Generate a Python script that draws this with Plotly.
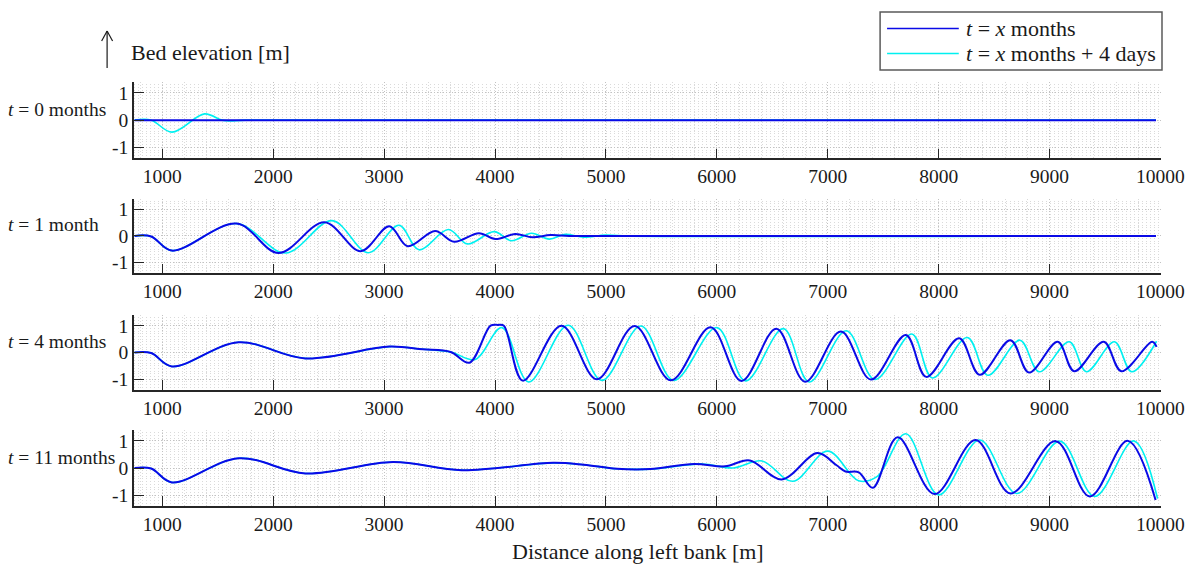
import plotly.graph_objects as go

# ---------------- data ----------------
panel_labels = ["<i>t</i> = 0 months", "<i>t</i> = 1 month", "<i>t</i> = 4 months", "<i>t</i> = 11 months"]
legend_names = ["<i>t</i> = <i>x</i> months", "<i>t</i> = <i>x</i> months + 4 days"]
x_ticks = [1000, 2000, 3000, 4000, 5000, 6000, 7000, 8000, 9000, 10000]
x_ticktext = ["1000", "2000", "3000", "4000", "5000", "6000", "7000", "8000", "9000", "10000"]
y_ticks = [-1, 0, 1]
y_ticktext = ["-1", "0", "1"]

# t = 0 months
x0_blue = [750, 9960]
y0_blue = [0, 0]
x0_cyan = [750, 900, 1087, 1381, 1536, 1613, 1750, 9960]
y0_cyan = [0, 0, -0.44, 0.23, 0.0, -0.03, 0, 0]

# t = 1 month
x1_blue = [750, 900, 1086, 1671, 2049, 2462, 2789, 3047, 3212, 3460, 3632, 3855, 4003,
           4182, 4337, 4500, 4670, 5000, 9960]
y1_blue = [0, -0.02, -0.55, 0.46, -0.64, 0.51, -0.57, 0.36, -0.39, 0.18, -0.22, 0.10, -0.12,
           0.07, -0.05, 0.03, 0, 0, 0]
x1_cyan = [750, 900, 1086, 1671, 2111, 2531, 2858, 3134, 3315, 3580, 3752, 3993, 4148,
           4329, 4490, 4632, 4800, 4992, 5150, 9960]
y1_cyan = [0, -0.02, -0.55, 0.46, -0.64, 0.57, -0.63, 0.40, -0.52, 0.24, -0.30, 0.16, -0.18,
           0.10, -0.12, 0.06, -0.05, 0.03, 0, 0]

# t = 4 months
x4_blue = [750, 900, 1086, 1688, 2290, 3047, 3350, 3600, 3769, 3960, 4027, 4080, 4251,
           4600, 4919, 5259, 5585, 5944, 6222, 6537, 6796, 7119, 7389, 7704, 7889, 8185,
           8370, 8648, 8815, 9074, 9222, 9489, 9648, 9925, 9965]
y4_blue = [0, -0.02, -0.52, 0.38, -0.22, 0.22, 0.12, 0.02, -0.38, 1.0, 1.03, 1.0, -1.05,
           1.0, -1.0, 0.99, -1.04, 0.94, -1.06, 0.89, -1.09, 0.78, -1.01, 0.65, -0.91, 0.53,
           -0.83, 0.46, -0.75, 0.40, -0.70, 0.40, -0.70, 0.40, 0.21]
x4_cyan = [750, 900, 1086, 1688, 2290, 3047, 3350, 3600, 3821, 4062, 4303, 4660, 4963,
           5315, 5611, 6000, 6259, 6600, 6833, 7167, 7426, 7759, 7944, 8259, 8444, 8733,
           8907, 9178, 9333, 9585, 9741, 9965]
y4_cyan = [0, -0.02, -0.52, 0.38, -0.22, 0.22, 0.12, 0.02, -0.26, 0.93, -1.10, 1.02, -1.04,
           0.99, -1.04, 0.93, -1.06, 0.89, -1.10, 0.81, -1.01, 0.69, -0.95, 0.56, -0.85, 0.46,
           -0.72, 0.40, -0.72, 0.40, -0.72, 0.42]

# t = 11 months
x11_blue = [750, 900, 1086, 1688, 2290, 3081, 3700, 4526, 4800, 5100, 5400, 5796, 6074,
            6296, 6585, 6907, 7080, 7160, 7280, 7407, 7630, 7963, 8333, 8648, 9056, 9363,
            9704, 9956]
y11_blue = [0, -0.02, -0.53, 0.36, -0.20, 0.22, -0.08, 0.19, 0.12, -0.03, -0.04, 0.15, 0.06,
            0.28, -0.42, 0.55, 0.10, -0.13, -0.16, -0.73, 1.13, -0.96, 1.03, -0.94, 0.99, -1.05,
            1.0, -1.18]
x11_cyan = [750, 900, 1086, 1688, 2290, 3081, 3700, 4526, 4800, 5100, 5400, 5870, 6148,
            6407, 6685, 7000, 7278, 7444, 7704, 8000, 8370, 8704, 9093, 9407, 9759, 9974]
y11_cyan = [0, -0.02, -0.53, 0.36, -0.20, 0.22, -0.08, 0.19, 0.12, -0.03, -0.04, 0.15, 0.0,
            0.26, -0.49, 0.62, -0.47, -0.32, 1.26, -0.99, 1.03, -0.94, 0.99, -1.05, 1.0, -1.13]

panels = [
    (x0_blue, y0_blue, x0_cyan, y0_cyan),
    (x1_blue, y1_blue, x1_cyan, y1_cyan),
    (x4_blue, y4_blue, x4_cyan, y4_cyan),
    (x11_blue, y11_blue, x11_cyan, y11_cyan),
]

# ---------------- styling / layout ----------------
W, H = 1197, 568
ML, MR, MT, MB = 134, 32, 82, 62
PW, PH = W - ML - MR, H - MT - MB


def px_x(p):
    return (p - ML) / PW


def px_y(p):
    return (H - MB - p) / PH


def clamp(v):
    return max(0.0, min(1.0, v))


FONT = "'Liberation Serif', 'Times New Roman', Tinos, 'DejaVu Serif', serif"
TXT = "#1a1a1a"
AX = "#262626"
BLUE = "#0a0ae6"
CYAN = "#00f0f0"
GRID_MAJ = "#c2c2c2"
GRID_MIN = "#dadada"
TICK_SIZE = 19.5

domains = [(158.3, 82), (273.3, 198.5), (390, 315), (506, 430)]

fig = go.Figure()
for i, (xb, yb, xc, yc) in enumerate(panels):
    n = i + 1
    xa = "x" if n == 1 else f"x{n}"
    ya = "y" if n == 1 else f"y{n}"
    fig.add_trace(go.Scatter(x=xc, y=yc, mode="lines", line=dict(color=CYAN, width=1.6, shape="spline", smoothing=1),
                             name=legend_names[1], showlegend=False, xaxis=xa, yaxis=ya))
    fig.add_trace(go.Scatter(x=xb, y=yb, mode="lines", line=dict(color=BLUE, width=2, shape="spline", smoothing=1),
                             name=legend_names[0], showlegend=False, xaxis=xa, yaxis=ya))

layout = dict(
    width=W, height=H,
    margin=dict(l=ML, r=MR, t=MT, b=MB),
    paper_bgcolor="white", plot_bgcolor="white",
    font=dict(family=FONT, color=TXT, size=19),
    showlegend=False,
)

for i in range(4):
    n = i + 1
    xk = "xaxis" if n == 1 else f"xaxis{n}"
    yk = "yaxis" if n == 1 else f"yaxis{n}"
    bot, top = domains[i]
    layout[xk] = dict(
        anchor="y" if n == 1 else f"y{n}", domain=[0, 1], range=[745, 10005],
        tickvals=x_ticks, ticktext=x_ticktext, ticks="inside", ticklen=10, tickwidth=1.2, tickcolor=AX,
        showline=True, linecolor=AX, linewidth=1.5, mirror=False,
        showgrid=True, gridcolor=GRID_MAJ, gridwidth=1, griddash="1px,2px",
        minor=dict(dtick=200, tick0=0, showgrid=True, gridcolor=GRID_MIN, gridwidth=1, griddash="1px,2px", ticks=""),
        tickfont=dict(family=FONT, size=TICK_SIZE, color=TXT), zeroline=False,
    )
    layout[yk] = dict(
        anchor="x" if n == 1 else f"x{n}", domain=[clamp(px_y(bot)), clamp(px_y(top))], range=[-1.4, 1.4],
        tickvals=y_ticks, ticktext=y_ticktext, ticks="inside", ticklen=10, tickwidth=1.2, tickcolor=AX,
        showline=True, linecolor=AX, linewidth=1.5, mirror=False,
        showgrid=True, gridcolor=GRID_MAJ, gridwidth=1, griddash="1px,2px",
        minor=dict(dtick=0.1, tick0=0, showgrid=True, gridcolor=GRID_MIN, gridwidth=1, griddash="1px,3px", ticks=""),
        tickfont=dict(family=FONT, size=TICK_SIZE, color=TXT), zeroline=False,
    )

fig.update_layout(**layout)

annotations = []
for i, lab in enumerate(panel_labels):
    n = i + 1
    annotations.append(dict(text=lab, xref="paper", yref="y" if n == 1 else f"y{n}",
                            x=px_x(6), y=0, xanchor="left", yanchor="middle", yshift=11,
                            showarrow=False, font=dict(family=FONT, size=19.5, color=TXT)))
annotations.append(dict(text="Bed elevation [m]", xref="paper", yref="paper",
                        x=px_x(129), y=px_y(53), xanchor="left", yanchor="middle",
                        showarrow=False, font=dict(family=FONT, size=22, color=TXT)))
annotations.append(dict(text="Distance along left bank [m]", xref="paper", yref="paper",
                        x=px_x(639.5), y=px_y(551), xanchor="center", yanchor="middle",
                        showarrow=False, font=dict(family=FONT, size=22, color=TXT)))

# legend (box, line samples, labels)
LEG_L, LEG_R, LEG_T, LEG_B = 883, 1166, 12, 70
leg_rows = [(28.5, BLUE, 1.6, legend_names[0]), (53.5, CYAN, 1.6, legend_names[1])]
fig.add_shape(type="rect", xref="paper", yref="paper", x0=px_x(LEG_L), x1=px_x(LEG_R),
              y0=px_y(LEG_B), y1=px_y(LEG_T), line=dict(color="#5a5a5a", width=1.5), fillcolor="white", layer="above")
for yy, col, wd, name in leg_rows:
    fig.add_shape(type="line", xref="paper", yref="paper", x0=px_x(890), x1=px_x(962),
                  y0=px_y(yy), y1=px_y(yy), line=dict(color=col, width=wd), layer="above")
    annotations.append(dict(text=name, xref="paper", yref="paper", x=px_x(967), y=px_y(yy),
                            xanchor="left", yanchor="middle", showarrow=False,
                            font=dict(family=FONT, size=22, color=TXT)))
fig.update_layout(annotations=annotations)

# arrow next to "Bed elevation"
arrow_line = dict(color=TXT, width=1.2)
fig.add_shape(type="line", xref="paper", yref="paper", x0=px_x(107), x1=px_x(107), y0=px_y(68), y1=px_y(31), line=arrow_line)
fig.add_shape(type="line", xref="paper", yref="paper", x0=px_x(107), x1=px_x(101.5), y0=px_y(31), y1=px_y(41), line=arrow_line)
fig.add_shape(type="line", xref="paper", yref="paper", x0=px_x(107), x1=px_x(112.5), y0=px_y(31), y1=px_y(41), line=arrow_line)

fig.write_html("out.html")
